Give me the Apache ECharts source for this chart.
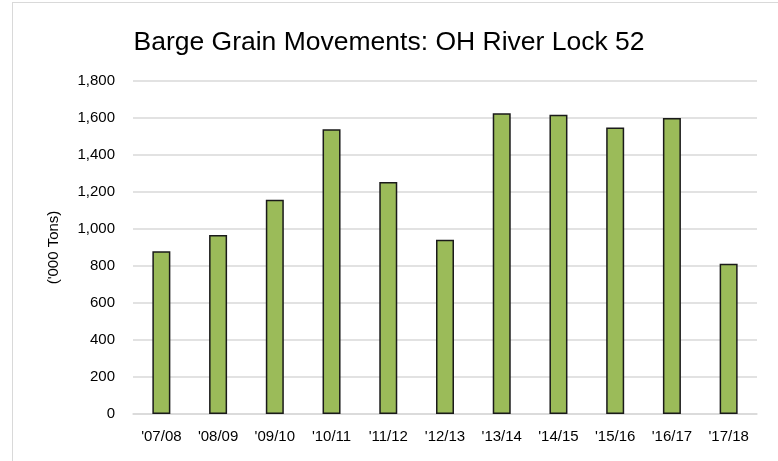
<!DOCTYPE html>
<html><head><meta charset="utf-8">
<script src="https://cdn.jsdelivr.net/npm/echarts@6/dist/echarts.min.js"></script>
<style>
html,body{margin:0;padding:0;background:#fff;overflow:hidden;}
#wrap{position:absolute;left:12px;top:2px;width:800px;height:500px;border:1.5px solid #d9d9d9;border-right:none;border-bottom:none;}
#c{position:absolute;left:0;top:0;width:778px;height:461px;}
</style>
</head><body>
<div id="wrap"></div>
<div id="c"></div>
<script>
var categories = ["'07/08","'08/09","'09/10","'10/11","'11/12","'12/13","'13/14","'14/15","'15/16","'16/17","'17/18"];
var tonnage = [880, 968, 1158, 1539, 1254, 942, 1626, 1617, 1548, 1600, 812];
var titleText = "Barge Grain Movements: OH River Lock 52";
var yAxisName = "('000 Tons)";

var chart = echarts.init(document.getElementById('c'), null, {renderer:'canvas'});
var font = "Liberation Sans, sans-serif";
chart.setOption({
  animation:false,
  backgroundColor:'transparent',
  title:{text:titleText,left:'center',top:24,textStyle:{fontFamily:font,fontSize:26.5,fontWeight:'normal',color:'#000'}},
  grid:{left:133,right:21,top:81,bottom:47,containLabel:false},
  xAxis:{type:'category',data:categories,
    axisLine:{lineStyle:{color:'#d9d9d9',width:1.5}},axisTick:{show:false},
    axisLabel:{fontFamily:font,fontSize:15,color:'#000',margin:15,interval:0}},
  yAxis:{type:'value',min:0,max:1800,interval:200,
    name:yAxisName,nameLocation:'middle',nameGap:72,nameRotate:90,
    nameTextStyle:{fontFamily:font,fontSize:15,color:'#000'},
    axisLine:{show:false},axisTick:{show:false},
    splitLine:{lineStyle:{color:'#d9d9d9',width:1.5}},
    axisLabel:{fontFamily:font,fontSize:15,color:'#000',margin:18,
      formatter:function(v){return v.toLocaleString('en-US');}}},
  series:[{type:'bar',data:tonnage,barWidth:18,
    itemStyle:{color:'#9BBB59',borderColor:'#1a1a1a',borderWidth:1.5}}]
});
</script>
</body></html>
